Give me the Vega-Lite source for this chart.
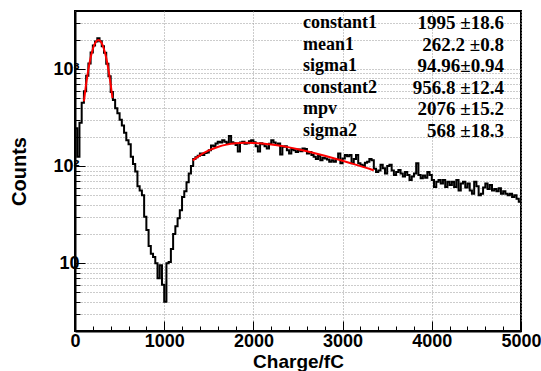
{
  "$schema": "https://vega.github.io/schema/vega-lite/v6.json",
  "width": 446,
  "height": 320,
  "autosize": {"type": "none"},
  "padding": {"left": 75, "top": 11, "right": 20, "bottom": 40},
  "background": "white",
  "config": {
    "view": {"stroke": "black", "strokeWidth": 2},
    "axis": {
      "labelFont": "Liberation Sans",
      "labelFontWeight": "bold",
      "labelFontSize": 18,
      "labelColor": "black",
      "titleFont": "Liberation Sans",
      "titleFontWeight": "bold",
      "titleColor": "black",
      "domainColor": "black",
      "domainWidth": 2,
      "tickColor": "black",
      "tickWidth": 1,
      "gridDash": [1, 2],
      "gridWidth": 1
    }
  },
  "datasets": {
    "hist": [
      {"c":0,"n":245},{"c":25,"n":125},{"c":50,"n":280},{"c":75,"n":450},{"c":100,"n":590},{"c":125,"n":850},{"c":150,"n":1140},{"c":175,"n":1480},{"c":200,"n":1750},{"c":225,"n":1920},
      {"c":250,"n":2070},{"c":275,"n":1930},{"c":300,"n":1720},{"c":325,"n":1470},{"c":350,"n":1130},{"c":375,"n":840},{"c":400,"n":580},{"c":425,"n":480},{"c":450,"n":395},{"c":475,"n":350},
      {"c":500,"n":300},{"c":525,"n":262},{"c":550,"n":220},{"c":575,"n":185},{"c":600,"n":168},{"c":625,"n":125},{"c":650,"n":105},{"c":675,"n":88},{"c":700,"n":62},{"c":725,"n":56},
      {"c":750,"n":50},{"c":775,"n":30},{"c":800,"n":22},{"c":825,"n":15},{"c":850,"n":12.5},{"c":875,"n":11.6},{"c":900,"n":10},{"c":925,"n":7},{"c":950,"n":9.5},{"c":975,"n":6},
      {"c":1000,"n":4},{"c":1025,"n":10},{"c":1050,"n":10.3},{"c":1075,"n":14},{"c":1100,"n":20},{"c":1125,"n":24},{"c":1150,"n":29},{"c":1175,"n":35},{"c":1200,"n":48},{"c":1225,"n":55},
      {"c":1250,"n":68},{"c":1275,"n":84},{"c":1300,"n":100},{"c":1325,"n":118},{"c":1350,"n":123},{"c":1375,"n":128},{"c":1400,"n":135},{"c":1425,"n":130},{"c":1450,"n":136},{"c":1475,"n":138},
      {"c":1500,"n":146},{"c":1525,"n":163},{"c":1550,"n":160},{"c":1575,"n":171},{"c":1600,"n":178},{"c":1625,"n":175},{"c":1650,"n":185},{"c":1675,"n":178},{"c":1700,"n":172},{"c":1725,"n":204},
      {"c":1750,"n":176},{"c":1775,"n":172},{"c":1800,"n":165},{"c":1825,"n":141},{"c":1850,"n":175},{"c":1875,"n":178},{"c":1900,"n":170},{"c":1925,"n":172},{"c":1950,"n":180},{"c":1975,"n":185},
      {"c":2000,"n":176},{"c":2025,"n":160},{"c":2050,"n":141},{"c":2075,"n":172},{"c":2100,"n":168},{"c":2125,"n":160},{"c":2150,"n":152},{"c":2175,"n":170},{"c":2200,"n":185},{"c":2225,"n":175},
      {"c":2250,"n":165},{"c":2275,"n":171},{"c":2300,"n":132},{"c":2325,"n":158},{"c":2350,"n":160},{"c":2375,"n":146},{"c":2400,"n":135},{"c":2425,"n":150},{"c":2450,"n":146},{"c":2475,"n":140},
      {"c":2500,"n":148},{"c":2525,"n":142},{"c":2550,"n":152},{"c":2575,"n":150},{"c":2600,"n":135},{"c":2625,"n":140},{"c":2650,"n":130},{"c":2675,"n":125},{"c":2700,"n":118},{"c":2725,"n":128},
      {"c":2750,"n":115},{"c":2775,"n":122},{"c":2800,"n":120},{"c":2825,"n":117},{"c":2850,"n":111},{"c":2875,"n":115},{"c":2900,"n":111},{"c":2925,"n":118},{"c":2950,"n":135},{"c":2975,"n":107},
      {"c":3000,"n":120},{"c":3025,"n":130},{"c":3050,"n":126},{"c":3075,"n":130},{"c":3100,"n":107},{"c":3125,"n":118},{"c":3150,"n":130},{"c":3175,"n":107},{"c":3200,"n":103},{"c":3225,"n":100},
      {"c":3250,"n":108},{"c":3275,"n":111},{"c":3300,"n":118},{"c":3325,"n":115},{"c":3350,"n":94},{"c":3375,"n":87},{"c":3400,"n":90},{"c":3425,"n":103},{"c":3450,"n":95},{"c":3475,"n":84},
      {"c":3500,"n":100},{"c":3525,"n":103},{"c":3550,"n":90},{"c":3575,"n":81},{"c":3600,"n":87},{"c":3625,"n":91},{"c":3650,"n":84},{"c":3675,"n":78},{"c":3700,"n":87},{"c":3725,"n":81},
      {"c":3750,"n":72},{"c":3775,"n":78},{"c":3800,"n":84},{"c":3825,"n":107},{"c":3850,"n":81},{"c":3875,"n":75},{"c":3900,"n":80},{"c":3925,"n":76},{"c":3950,"n":87},{"c":3975,"n":81},
      {"c":4000,"n":72},{"c":4025,"n":61},{"c":4050,"n":69},{"c":4075,"n":72},{"c":4100,"n":66},{"c":4125,"n":72},{"c":4150,"n":61},{"c":4175,"n":69},{"c":4200,"n":64},{"c":4225,"n":69},
      {"c":4250,"n":61},{"c":4275,"n":72},{"c":4300,"n":56},{"c":4325,"n":66},{"c":4350,"n":69},{"c":4375,"n":60},{"c":4400,"n":66},{"c":4425,"n":56},{"c":4450,"n":52},{"c":4475,"n":69},
      {"c":4500,"n":62},{"c":4525,"n":50},{"c":4550,"n":52},{"c":4575,"n":60},{"c":4600,"n":66},{"c":4625,"n":58},{"c":4650,"n":64},{"c":4675,"n":56},{"c":4700,"n":58},{"c":4725,"n":55},
      {"c":4750,"n":59},{"c":4775,"n":52},{"c":4800,"n":55},{"c":4825,"n":52},{"c":4850,"n":50},{"c":4875,"n":52},{"c":4900,"n":48},{"c":4925,"n":50},{"c":4950,"n":46},{"c":4975,"n":43},
      {"c":5000,"n":43}
    ],
    "fit1": [
      {"c":100,"n":464},{"c":120,"n":650},{"c":140,"n":872},{"c":160,"n":1118},{"c":180,"n":1371},{"c":200,"n":1610},{"c":220,"n":1807},{"c":240,"n":1941},{"c":262,"n":1995},
      {"c":280,"n":1960},{"c":300,"n":1843},{"c":320,"n":1658},{"c":340,"n":1426},{"c":360,"n":1174},{"c":380,"n":924},{"c":400,"n":696},{"c":420,"n":502}
    ],
    "fit2": [
      {"c":1320,"n":114.5},{"c":1400,"n":129},{"c":1500,"n":145},{"c":1600,"n":157.4},{"c":1700,"n":166.3},{"c":1800,"n":171.8},{"c":1900,"n":174},{"c":2000,"n":173.4},
      {"c":2100,"n":171},{"c":2200,"n":167},{"c":2300,"n":161.8},{"c":2400,"n":155.9},{"c":2500,"n":149.2},{"c":2600,"n":142.2},{"c":2700,"n":135},{"c":2800,"n":127.7},
      {"c":2900,"n":120.5},{"c":3000,"n":113.5},{"c":3100,"n":106.6},{"c":3200,"n":100},{"c":3300,"n":93.7},{"c":3350,"n":90.7}
    ],
    "params": [
      {"name":"constant1","val":"1995 ±18.6"},
      {"name":"mean1","val":"262.2 ±0.8"},
      {"name":"sigma1","val":"94.96±0.94"},
      {"name":"constant2","val":"956.8 ±12.4"},
      {"name":"mpv","val":"2076 ±15.2"},
      {"name":"sigma2","val":"568 ±18.3"}
    ]
  },
  "layer": [
    {
      "layer": [
        {
          "data": {"name": "hist"},
          "mark": {"type": "line", "interpolate": "step-after", "color": "black", "strokeWidth": 2},
          "encoding": {
            "x": {
              "field": "c", "type": "quantitative",
              "scale": {"domain": [0, 5000], "nice": false, "zero": false},
              "axis": {"title": "Charge/fC", "titleFontSize": 19, "titlePadding": -3, "values": [0,200,400,600,800,1000,1200,1400,1600,1800,2000,2200,2400,2600,2800,3000,3200,3400,3600,3800,4000,4200,4400,4600,4800,5000], "format": "d", "labelExpr": "datum.value % 1000 === 0 ? datum.label : ''", "labelOverlap": false, "labelBound": false, "labelFlush": false, "labelPadding": 11, "grid": true, "gridColor": {"condition": {"test": "datum.value % 1000 === 0", "value": "#999999"}, "value": "rgba(0,0,0,0)"}, "tickSize": {"condition": {"test": "datum.value % 1000 === 0", "value": -10}, "value": -5}}
            },
            "y": {
              "field": "n", "type": "quantitative",
              "scale": {"type": "log", "domain": [2, 3960], "nice": false},
              "axis": {
                "title": "Counts",
                "titleFontSize": 20,
                "titlePadding": 23,
                "values": [2,3,4,5,6,7,8,9,10,20,30,40,50,60,70,80,90,100,200,300,400,500,600,700,800,900,1000,2000,3000],
                "labelExpr": "datum.value === 10 ? '10' : datum.value === 100 ? '10²' : datum.value === 1000 ? '10³' : ''",
                "labelOverlap": false,
                "labelBound": false,
                "labelPadding": 6,
                "grid": true,
                "gridColor": "#999999",
                "tickSize": {"condition": {"test": "datum.value === 10 || datum.value === 100 || datum.value === 1000", "value": -10}, "value": -5}
              }
            }
          }
        },
        {
          "data": {"name": "fit1"},
          "mark": {"type": "line", "interpolate": "monotone", "color": "#ff0000", "strokeWidth": 2},
          "encoding": {
            "x": {"field": "c", "type": "quantitative",
              "axis": {"title": "Charge/fC", "titleFontSize": 19, "titlePadding": -3, "values": [0,200,400,600,800,1000,1200,1400,1600,1800,2000,2200,2400,2600,2800,3000,3200,3400,3600,3800,4000,4200,4400,4600,4800,5000], "format": "d", "labelExpr": "datum.value % 1000 === 0 ? datum.label : ''", "labelOverlap": false, "labelBound": false, "labelFlush": false, "labelPadding": 11, "grid": true, "gridColor": {"condition": {"test": "datum.value % 1000 === 0", "value": "#999999"}, "value": "rgba(0,0,0,0)"}, "tickSize": {"condition": {"test": "datum.value % 1000 === 0", "value": -10}, "value": -5}}},
            "y": {"field": "n", "type": "quantitative"}
          }
        },
        {
          "data": {"name": "fit2"},
          "mark": {"type": "line", "interpolate": "monotone", "color": "#ff0000", "strokeWidth": 2},
          "encoding": {
            "x": {"field": "c", "type": "quantitative",
              "axis": {"title": "Charge/fC", "titleFontSize": 19, "titlePadding": -3, "values": [0,200,400,600,800,1000,1200,1400,1600,1800,2000,2200,2400,2600,2800,3000,3200,3400,3600,3800,4000,4200,4400,4600,4800,5000], "format": "d", "labelExpr": "datum.value % 1000 === 0 ? datum.label : ''", "labelOverlap": false, "labelBound": false, "labelFlush": false, "labelPadding": 11, "grid": true, "gridColor": {"condition": {"test": "datum.value % 1000 === 0", "value": "#999999"}, "value": "rgba(0,0,0,0)"}, "tickSize": {"condition": {"test": "datum.value % 1000 === 0", "value": -10}, "value": -5}}},
            "y": {"field": "n", "type": "quantitative"}
          }
        }
      ]
    },
    {
      "data": {"name": "params"},
      "layer": [
        {
          "mark": {"type": "text", "align": "left", "baseline": "middle", "font": "Liberation Serif", "fontWeight": "bold", "fontSize": 18, "color": "black"},
          "encoding": {
            "x": {"datum": 2556, "type": "quantitative",
              "axis": {"title": "Charge/fC", "titleFontSize": 19, "titlePadding": -3, "values": [0,200,400,600,800,1000,1200,1400,1600,1800,2000,2200,2400,2600,2800,3000,3200,3400,3600,3800,4000,4200,4400,4600,4800,5000], "format": "d", "labelExpr": "datum.value % 1000 === 0 ? datum.label : ''", "labelOverlap": false, "labelBound": false, "labelFlush": false, "labelPadding": 11, "grid": true, "gridColor": {"condition": {"test": "datum.value % 1000 === 0", "value": "#999999"}, "value": "rgba(0,0,0,0)"}, "tickSize": {"condition": {"test": "datum.value % 1000 === 0", "value": -10}, "value": -5}}},
            "y": {"field": "name", "type": "ordinal", "sort": null, "scale": {"type": "point", "range": [12, 120], "padding": 0}, "axis": null},
            "text": {"field": "name"}
          }
        },
        {
          "mark": {"type": "text", "align": "right", "baseline": "middle", "font": "Liberation Serif", "fontWeight": "bold", "fontSize": 19, "color": "black"},
          "encoding": {
            "x": {"datum": 4809, "type": "quantitative",
              "axis": {"title": "Charge/fC", "titleFontSize": 19, "titlePadding": -3, "values": [0,200,400,600,800,1000,1200,1400,1600,1800,2000,2200,2400,2600,2800,3000,3200,3400,3600,3800,4000,4200,4400,4600,4800,5000], "format": "d", "labelExpr": "datum.value % 1000 === 0 ? datum.label : ''", "labelOverlap": false, "labelBound": false, "labelFlush": false, "labelPadding": 11, "grid": true, "gridColor": {"condition": {"test": "datum.value % 1000 === 0", "value": "#999999"}, "value": "rgba(0,0,0,0)"}, "tickSize": {"condition": {"test": "datum.value % 1000 === 0", "value": -10}, "value": -5}}},
            "y": {"field": "name", "type": "ordinal", "sort": null, "scale": {"type": "point", "range": [12, 120], "padding": 0}, "axis": null},
            "text": {"field": "val"}
          }
        }
      ]
    }
  ],
  "resolve": {"scale": {"y": "independent"}}
}
